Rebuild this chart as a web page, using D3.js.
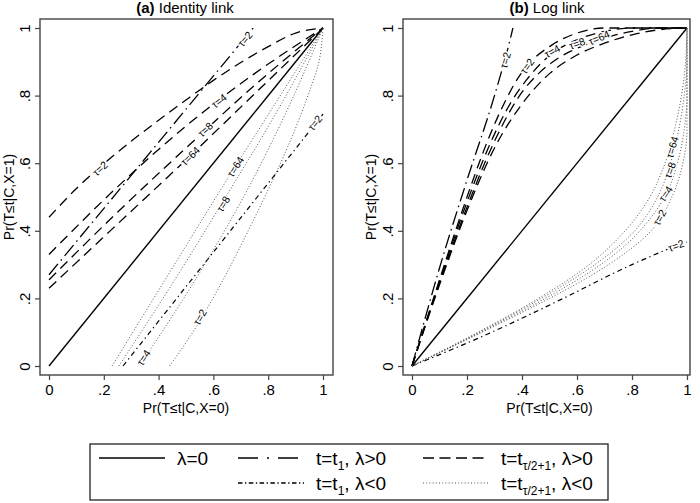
<!DOCTYPE html>
<html><head><meta charset="utf-8">
<script src="https://cdn.jsdelivr.net/npm/d3@7"></script>
<style>
html,body{margin:0;padding:0;background:#fff;}
text{font-family:"Liberation Sans",Arial,Helvetica,sans-serif;fill:#000;}
</style></head>
<body><svg id="c" width="700" height="503"></svg>
<script>
// ---------- data ----------
const ticks = [0, 0.2, 0.4, 0.6, 0.8, 1];
const tickLabels = ["0", ".2", ".4", ".6", ".8", "1"];
const titles = [["(a)", "Identity link"], ["(b)", "Log link"]];
const yTitle = "Pr(T≤t|C,X=1)";
const xTitle = "Pr(T≤t|C,X=0)";

// panel (a) identity link
const a_diag_x = [0, 1], a_diag_y = [0, 1];
const a_t1pos_x = [0, 0.25, 0.5, 0.745], a_t1pos_y = [0.27, 0.515, 0.76, 1];
const a_t1neg_x = [0.27, 0.515, 0.76, 1], a_t1neg_y = [0, 0.25, 0.5, 0.745];
const a_dash2_x = [0, 0.1, 0.2, 0.3, 0.4, 0.5, 0.6, 0.7, 0.8, 0.9, 1];
const a_dash2_y = [0.44, 0.525, 0.598, 0.665, 0.727, 0.787, 0.845, 0.898, 0.945, 0.985, 1];
const a_dash4_x = [0, 0.25, 0.5, 0.75, 1], a_dash4_y = [0.33, 0.53, 0.71, 0.865, 1];
const a_dash8_x = [0, 0.25, 0.5, 0.75, 1], a_dash8_y = [0.255, 0.455, 0.645, 0.83, 1];
const a_dash64_x = [0, 0.25, 0.5, 0.75, 1], a_dash64_y = [0.23, 0.42, 0.61, 0.805, 1];
const a_dot2_x = [0.44, 0.525, 0.598, 0.665, 0.727, 0.787, 0.845, 0.898, 0.945, 0.985, 1];
const a_dot2_y = [0, 0.1, 0.2, 0.3, 0.4, 0.5, 0.6, 0.7, 0.8, 0.9, 1];
const a_dot4_x = [0.33, 0.53, 0.71, 0.865, 1], a_dot4_y = [0, 0.25, 0.5, 0.75, 1];
const a_dot8_x = [0.255, 0.455, 0.645, 0.83, 1], a_dot8_y = [0, 0.25, 0.5, 0.75, 1];
const a_dot64_x = [0.23, 0.42, 0.61, 0.805, 1], a_dot64_y = [0, 0.25, 0.5, 0.75, 1];

// panel (b) log link
const b_diag_x = [0, 1], b_diag_y = [0, 1];
const b_t1pos_x = [0, 0.1, 0.2, 0.3, 0.355, 0.367], b_t1pos_y = [0, 0.29, 0.55, 0.8, 0.96, 1];
const b_t1neg_x = [0, 0.29, 0.55, 0.8, 0.96, 1], b_t1neg_y = [0, 0.1, 0.2, 0.3, 0.355, 0.367];
const b_dash2_x = [0, 0.1, 0.2, 0.26, 0.3, 0.34, 0.38, 0.42, 0.5, 0.6, 0.7, 1];
const b_dash2_y = [0, 0.255, 0.5, 0.635, 0.715, 0.785, 0.845, 0.89, 0.945, 0.985, 1, 1];
const b_dash4_x = [0, 0.1, 0.2, 0.28, 0.32, 0.36, 0.42, 0.51, 0.6, 0.7, 0.8, 1];
const b_dash4_y = [0, 0.25, 0.485, 0.65, 0.72, 0.78, 0.85, 0.925, 0.965, 0.99, 1, 1];
const b_dash8_x = [0, 0.1, 0.2, 0.3, 0.35, 0.4, 0.46, 0.53, 0.6, 0.7, 0.8, 0.9, 1];
const b_dash8_y = [0, 0.245, 0.47, 0.665, 0.745, 0.81, 0.865, 0.91, 0.94, 0.97, 0.99, 1, 1];
const b_dash64_x = [0, 0.1, 0.2, 0.3, 0.4, 0.5, 0.6, 0.7, 0.8, 0.9, 1];
const b_dash64_y = [0, 0.24, 0.46, 0.645, 0.775, 0.865, 0.92, 0.955, 0.98, 0.995, 1];
const b_dot2_x = [0, 0.255, 0.5, 0.635, 0.715, 0.785, 0.845, 0.89, 0.945, 0.985, 1, 1];
const b_dot2_y = [0, 0.1, 0.2, 0.26, 0.3, 0.34, 0.38, 0.42, 0.5, 0.6, 0.7, 1];
const b_dot4_x = [0, 0.25, 0.485, 0.65, 0.72, 0.78, 0.85, 0.925, 0.965, 0.99, 1, 1];
const b_dot4_y = [0, 0.1, 0.2, 0.28, 0.32, 0.36, 0.42, 0.51, 0.6, 0.7, 0.8, 1];
const b_dot8_x = [0, 0.245, 0.47, 0.665, 0.745, 0.81, 0.865, 0.91, 0.94, 0.97, 0.99, 1, 1];
const b_dot8_y = [0, 0.1, 0.2, 0.3, 0.35, 0.4, 0.46, 0.53, 0.6, 0.7, 0.8, 0.9, 1];
const b_dot64_x = [0, 0.24, 0.46, 0.645, 0.775, 0.865, 0.92, 0.955, 0.98, 0.995, 1];
const b_dot64_y = [0, 0.1, 0.2, 0.3, 0.4, 0.5, 0.6, 0.7, 0.8, 0.9, 1];

// curve labels: [series key, text, x, y]
const a_labels = [
  ["t1pos", "τ=2", 0.715, 0.968], ["t1neg", "τ=2", 0.97, 0.72],
  ["dash2", "τ=2", 0.186, 0.585], ["dash4", "τ=4", 0.62, 0.785],
  ["dash8", "τ=8", 0.57, 0.70], ["dash64", "τ=64", 0.515, 0.622],
  ["dot2", "τ=2", 0.55, 0.145], ["dot4", "τ=4", 0.345, 0.025],
  ["dot8", "τ=8", 0.635, 0.48], ["dot64", "τ=64", 0.68, 0.59]
];
const b_labels = [
  ["t1pos", "τ=2", 0.338, 0.905], ["t1neg", "τ=2", 0.96, 0.357],
  ["dash2", "τ=2", 0.418, 0.888], ["dash4", "τ=4", 0.51, 0.932],
  ["dash8", "τ=8", 0.60, 0.955], ["dash64", "τ=64", 0.68, 0.972],
  ["dot2", "τ=2", 0.9, 0.44], ["dot4", "τ=4", 0.922, 0.51],
  ["dot8", "τ=8", 0.937, 0.58], ["dot64", "τ=64", 0.945, 0.648]
];

const legendText = [
  ["λ=0", "", ""], ["t=t", "1", ", λ>0"], ["t=t", "τ/2+1", ", λ>0"],
  ["t=t", "1", ", λ<0"], ["t=t", "τ/2+1", ", λ<0"]
];

// ---------- styles / layout ----------
const STY = {
  solid:  {plot: null,              leg: null,             w: 1.4, c: "#000"},
  ldd:    {plot: "14,4.5,1.5,4.5",  leg: "20,9,2,9",       w: 1.3, c: "#000"},
  dd:     {plot: "5,3.5,1.3,3.5",   leg: "4.5,2.5,1.3,2.5",w: 1.2, c: "#000"},
  dash:   {plot: "10,6",            leg: "11,5.5",         w: 1.3, c: "#000"},
  dot:    {plot: "1,2",             leg: "1,2.2",          w: 1.0, c: "#555"}
};
const mk = (xs, ys) => xs.map((x, i) => [x, ys[i]]);
const panels = [
  { frame: {x0: 40, x1: 333, y0: 19, y1: 375}, xr: [49, 323], titleX: 185,
    yTitleX: 14, series: {
      diag: [mk(a_diag_x, a_diag_y), "solid", "x"],
      t1pos: [mk(a_t1pos_x, a_t1pos_y), "ldd", "x"],
      t1neg: [mk(a_t1neg_x, a_t1neg_y), "dd", "x"],
      dash2: [mk(a_dash2_x, a_dash2_y), "dash", "x"],
      dash4: [mk(a_dash4_x, a_dash4_y), "dash", "x"],
      dash8: [mk(a_dash8_x, a_dash8_y), "dash", "x"],
      dash64: [mk(a_dash64_x, a_dash64_y), "dash", "x"],
      dot2: [mk(a_dot2_x, a_dot2_y), "dot", "y"],
      dot4: [mk(a_dot4_x, a_dot4_y), "dot", "y"],
      dot8: [mk(a_dot8_x, a_dot8_y), "dot", "y"],
      dot64: [mk(a_dot64_x, a_dot64_y), "dot", "y"]
    }, labels: a_labels },
  { frame: {x0: 403, x1: 690, y0: 19, y1: 375}, xr: [412, 687], titleX: 547,
    yTitleX: 376, series: {
      diag: [mk(b_diag_x, b_diag_y), "solid", "x"],
      t1pos: [mk(b_t1pos_x, b_t1pos_y), "ldd", "x"],
      t1neg: [mk(b_t1neg_x, b_t1neg_y), "dd", "x"],
      dash2: [mk(b_dash2_x, b_dash2_y), "dash", "x"],
      dash4: [mk(b_dash4_x, b_dash4_y), "dash", "x"],
      dash8: [mk(b_dash8_x, b_dash8_y), "dash", "x"],
      dash64: [mk(b_dash64_x, b_dash64_y), "dash", "x"],
      dot2: [mk(b_dot2_x, b_dot2_y), "dot", "y"],
      dot4: [mk(b_dot4_x, b_dot4_y), "dot", "y"],
      dot8: [mk(b_dot8_x, b_dot8_y), "dot", "y"],
      dot64: [mk(b_dot64_x, b_dot64_y), "dot", "y"]
    }, labels: b_labels }
];

const svg = d3.select("#c");
const yS = d3.scaleLinear().domain([0, 1]).range([366, 28]);

panels.forEach((p, pi) => {
  const xS = d3.scaleLinear().domain([0, 1]).range(p.xr);
  const f = p.frame;
  const g = svg.append("g");

  // lines
  Object.entries(p.series).forEach(([key, [pts, st, orient]]) => {
    const s = STY[st];
    const line = d3.line().x(d => xS(d[0])).y(d => yS(d[1]))
      .curve(orient === "x" ? d3.curveMonotoneX : d3.curveMonotoneY);
    g.append("path").attr("d", line(pts)).attr("fill", "none")
      .attr("stroke", s.c).attr("stroke-width", s.w)
      .attr("stroke-dasharray", s.plot);
  });

  // curve labels
  p.labels.forEach(([key, txt, lx, ly]) => {
    const pts = p.series[key][0].map(d => [xS(d[0]), yS(d[1])]);
    const px = xS(lx), py = yS(ly);
    let best = 1e9, ang = 0;
    for (let i = 0; i < pts.length - 1; i++) {
      const [x1, y1] = pts[i], [x2, y2] = pts[i + 1];
      const dx = x2 - x1, dy = y2 - y1, L2 = dx * dx + dy * dy || 1;
      let t = ((px - x1) * dx + (py - y1) * dy) / L2; t = Math.max(0, Math.min(1, t));
      const qx = x1 + t * dx - px, qy = y1 + t * dy - py, dd = qx * qx + qy * qy;
      if (dd < best) { best = dd; ang = Math.atan2(dy, dx) * 180 / Math.PI; }
    }
    if (ang > 90) ang -= 180; if (ang < -90) ang += 180;
    g.append("text").attr("transform", `translate(${px},${py}) rotate(${ang})`)
      .attr("text-anchor", "middle").attr("dominant-baseline", "central")
      .attr("font-size", 10.5).attr("stroke", "#fff").attr("stroke-width", 3)
      .attr("paint-order", "stroke").text(txt);
  });

  // frame
  g.append("rect").attr("x", f.x0).attr("y", f.y0)
    .attr("width", f.x1 - f.x0).attr("height", f.y1 - f.y0)
    .attr("fill", "none").attr("stroke", "#444").attr("stroke-width", 1.4);

  // axes
  const ax = g.append("g").attr("transform", `translate(0,${f.y1})`)
    .call(d3.axisBottom(xS).tickValues(ticks).tickSize(5).tickPadding(4)
      .tickFormat((d, i) => tickLabels[i]));
  const ay = g.append("g").attr("transform", `translate(${f.x0},0)`)
    .call(d3.axisLeft(yS).tickValues(ticks).tickSize(5)
      .tickFormat((d, i) => tickLabels[i]));
  [ax, ay].forEach(a => {
    a.select(".domain").remove();
    a.selectAll("line").attr("stroke", "#444").attr("stroke-width", 1.2);
    a.selectAll("text").attr("font-size", 15)
      .attr("font-family", '"Liberation Sans",Arial,Helvetica,sans-serif');
  });
  ay.selectAll("text").attr("transform", "rotate(-90)").attr("x", 0).attr("y", -10)
    .attr("dy", 0).attr("text-anchor", "middle");

  // titles
  const t = g.append("text").attr("x", p.titleX).attr("y", 13)
    .attr("text-anchor", "middle").attr("font-size", 15);
  t.append("tspan").attr("font-weight", "bold").text(titles[pi][0]);
  t.append("tspan").text("\u00a0" + titles[pi][1]);

  g.append("text").attr("x", (p.xr[0] + p.xr[1]) / 2).attr("y", 413)
    .attr("text-anchor", "middle").attr("font-size", 14).text(xTitle);
  g.append("text").attr("transform", `translate(${p.yTitleX},197) rotate(-90)`)
    .attr("text-anchor", "middle").attr("font-size", 14).text(yTitle);
});

// ---------- legend ----------
const leg = svg.append("g");
const box = {x0: 90, x1: 608, y0: 444, y1: 500};
leg.append("rect").attr("x", box.x0).attr("y", box.y0)
  .attr("width", box.x1 - box.x0).attr("height", box.y1 - box.y0)
  .attr("fill", "#fff").attr("stroke", "#222").attr("stroke-width", 1.3);
const legPos = [
  {sx: 99, row: 0, st: "solid"}, {sx: 238, row: 0, st: "ldd"}, {sx: 423, row: 0, st: "dash"},
  {sx: 238, row: 1, st: "dd"}, {sx: 423, row: 1, st: "dot"}
];
const rowY = [458, 483];
legPos.forEach((lp, i) => {
  const s = STY[lp.st];
  const yy = rowY[lp.row];
  leg.append("line").attr("x1", lp.sx).attr("x2", lp.sx + 66).attr("y1", yy).attr("y2", yy)
    .attr("stroke", s.c).attr("stroke-width", s.w + 0.2).attr("stroke-dasharray", s.leg);
  const [m, sub, rest] = legendText[i];
  const tx = leg.append("text").attr("x", lp.sx + 78).attr("y", yy + 7).attr("font-size", 19);
  tx.append("tspan").text(m);
  if (sub) {
    tx.append("tspan").attr("font-size", 12).attr("dy", 5).text(sub);
    tx.append("tspan").attr("dy", -5).text(rest);
  }
});
</script></body></html>
